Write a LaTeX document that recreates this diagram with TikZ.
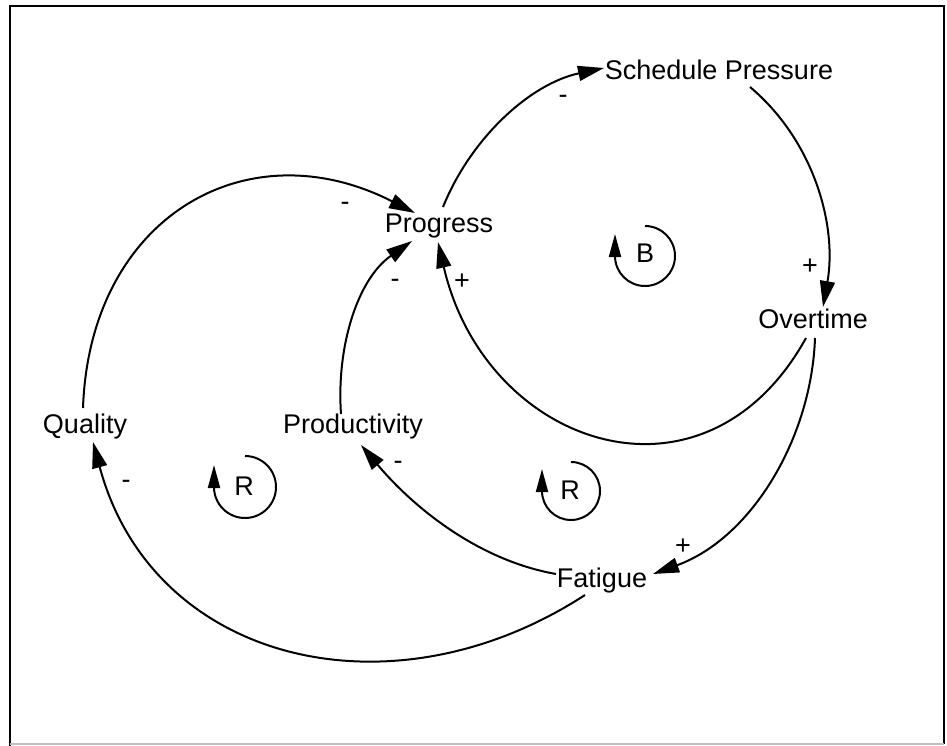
\documentclass[tikz,border=0pt]{standalone}
\usepackage{fontspec}
\setmainfont{Liberation Sans}
\usetikzlibrary{arrows.meta}
\begin{document}
\begin{tikzpicture}[x=1pt,y=1pt,
  lbl/.style={font=\fontsize{27}{32}\selectfont, inner sep=0pt, anchor=base},
  sgn/.style={font=\fontsize{27}{32}\selectfont, inner sep=0pt, anchor=base},
  looplbl/.style={font=\fontsize{27}{32}\selectfont, inner sep=0pt, anchor=center},
  link/.style={line width=2pt, -{Triangle[length=26pt,width=15pt]}},
  loopar/.style={line width=2pt, -{Triangle[length=23pt,width=12pt]}},
  frame/.style={line width=2.5pt}
]
\useasboundingbox (0,0) rectangle (947,-746);
\draw[frame] (10,-746) -- (10,-6) -- (944,-6) -- (944,-744);
\draw[line width=2pt, gray!50] (10,-744) -- (944,-744);

% variables
\node[lbl] (sp)   at (719,-80)  {Schedule Pressure};
\node[lbl] (prog) at (439,-233) {Progress};
\node[lbl] (ot)   at (813,-328) {Overtime};
\node[lbl] (qual) at (85,-433)  {Quality};
\node[lbl] (prod) at (353,-433) {Productivity};
\node[lbl] (fat)  at (602,-587) {Fatigue};

% links
\draw[link] ([shift={(4,26)}]prog.base) .. controls +(68:75) and +(192:75) .. ([shift={(-115,12)}]sp.base);
\draw[link] ([shift={(31,-7)}]sp.base) .. controls +(-40:83) and +(80:83) .. ([shift={(10,21)}]ot.base);
\draw[link] ([shift={(-7,-10)}]ot.base) .. controls +(-119:210) and +(-77:210) .. ([shift={(-1,-9)}]prog.base);
\draw[link] ([shift={(2,-10)}]ot.base) .. controls +(-92:100) and +(20:105) .. ([shift={(51,13)}]fat.base);
\draw[link] ([shift={(-46,13)}]fat.base) .. controls +(170:80) and +(-50:80) .. ([shift={(8,-12)}]prod.base);
\draw[link] ([shift={(-17,-8)}]fat.base) .. controls +(-147:232) and +(-75:228) .. ([shift={(8,-9)}]qual.base);
\draw[link] ([shift={(-12,19)}]prod.base) .. controls +(94:67) and +(-145:67) .. ([shift={(-27,-8)}]prog.base);
\draw[link] ([shift={(-2,25)}]qual.base) .. controls +(88:190) and +(153:190) .. ([shift={(-24,20)}]prog.base);

% polarity signs
\node[sgn] (s1) at (563,-104)   {-};
\node[sgn] (s2) at (810,-274.5) {+};
\node[sgn] (s3) at (462,-289.5) {+};
\node[sgn] (s4) at (395,-287)   {-};
\node[sgn] (s5) at (345,-210)   {-};
\node[sgn] (s6) at (683,-554.5) {+};
\node[sgn] (s7) at (398,-469)   {-};
\node[sgn] (s8) at (126,-488)   {-};

% loop markers
\node[looplbl] (lb) at (645,-253) {B};
\draw[loopar] ([shift={(0,27)}]lb.center) arc[start angle=90, end angle=-180, radius=30] -- ++(0,22);
\node[looplbl] (lr1) at (244,-486) {R};
\draw[loopar] ([shift={(1,30)}]lr1.center) arc[start angle=90, end angle=-180, radius=31] -- ++(0,22);
\node[looplbl] (lr2) at (570,-490) {R};
\draw[loopar] ([shift={(1,28)}]lr2.center) arc[start angle=90, end angle=-180, radius=29] -- ++(0,22);
\end{tikzpicture}
\end{document}
